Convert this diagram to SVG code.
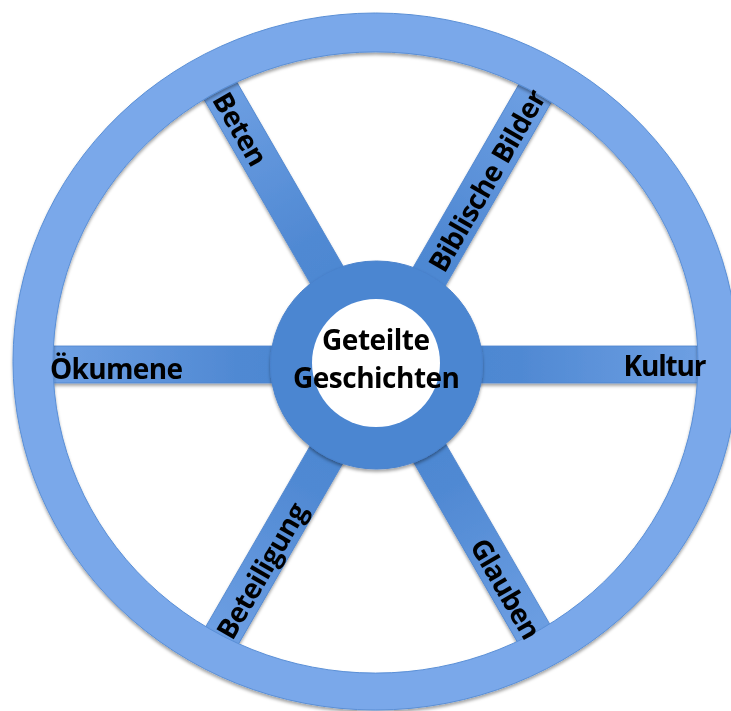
<svg xmlns="http://www.w3.org/2000/svg" width="731" height="711" viewBox="0 0 731 711">
<defs>
<linearGradient id="spokeGrad" x1="0" y1="0" x2="1" y2="0">
<stop offset="0" stop-color="#4A86D0"/>
<stop offset="0.35" stop-color="#5089D3"/>
<stop offset="1" stop-color="#70A1E4"/>
</linearGradient>
<filter id="shadow" x="-10%" y="-10%" width="120%" height="120%">
<feDropShadow dx="0" dy="2.5" stdDeviation="1.8" flood-color="#000" flood-opacity="0.35"/>
</filter>
</defs>
<style>
.spoke{fill:url(#spokeGrad);stroke:#4F86CF;stroke-width:0.8}
.rim{fill:#7AA8EA;stroke:#5A8FD6;stroke-width:1;fill-rule:evenodd}
.hub{fill:#4B86D1;stroke:#4A82CC;stroke-width:1}
.hole{fill:#FFFFFF}
.lbl{font-family:"Open Sans","Noto Sans","Liberation Sans",sans-serif;font-weight:bold;font-size:28px;fill:#000;text-anchor:middle}
</style>
<rect width="731" height="711" fill="#FFFFFF"/>
<g id="connectors" filter="url(#shadow)">
<rect class="spoke" x="40" y="-18.5" width="295" height="37" transform="translate(378.5,364.5) rotate(0)"/>
<rect class="spoke" x="40" y="-18.5" width="295" height="37" transform="translate(378.5,364.5) rotate(180)"/>
<rect class="spoke" x="40" y="-18.5" width="293" height="37" transform="translate(378.5,364.5) rotate(-120)"/>
<rect class="spoke" x="40" y="-18.5" width="293" height="37" transform="translate(378.5,364.5) rotate(-60)"/>
<rect class="spoke" x="40" y="-18.5" width="293" height="37" transform="translate(378.5,364.5) rotate(120)"/>
<rect class="spoke" x="40" y="-18.5" width="293" height="37" transform="translate(378.5,364.5) rotate(60)"/>
</g>
<g id="rim" filter="url(#shadow)">
<path class="rim" d="M13,361.5 A362.5,348.5 0 1,0 738,361.5 A362.5,348.5 0 1,0 13,361.5 Z M53,362.5 A322.5,310.5 0 1,1 698,362.5 A322.5,310.5 0 1,1 53,362.5 Z"/>
</g>
<g id="hub">
<ellipse class="hub" cx="376.5" cy="365" rx="106" ry="104" filter="url(#shadow)"/>
<circle class="hole" cx="376" cy="363" r="64"/>
<text class="lbl" x="376" y="350" textLength="108">Geteilte</text>
<text class="lbl" x="376.5" y="388" textLength="167">Geschichten</text>
</g>
<g id="label-oekumene">
<text class="lbl" x="116.5" y="379" textLength="133">Ökumene</text>
</g>
<g id="label-kultur">
<text class="lbl" x="665" y="376" textLength="83">Kultur</text>
</g>
<g id="label-beten" transform="translate(242,128.1) rotate(60)">
<text class="lbl" x="0" y="12" textLength="80">Beten</text>
</g>
<g id="label-biblische-bilder" transform="translate(485.25,179.6) rotate(-60)">
<text class="lbl" x="0" y="12" textLength="205">Biblische Bilder</text>
</g>
<g id="label-beteiligung" transform="translate(260,569.7) rotate(-60)">
<text class="lbl" x="0" y="12" textLength="152">Beteiligung</text>
</g>
<g id="label-glauben" transform="translate(507.5,587.9) rotate(60)">
<text class="lbl" x="0" y="12" textLength="111">Glauben</text>
</g>
</svg>
